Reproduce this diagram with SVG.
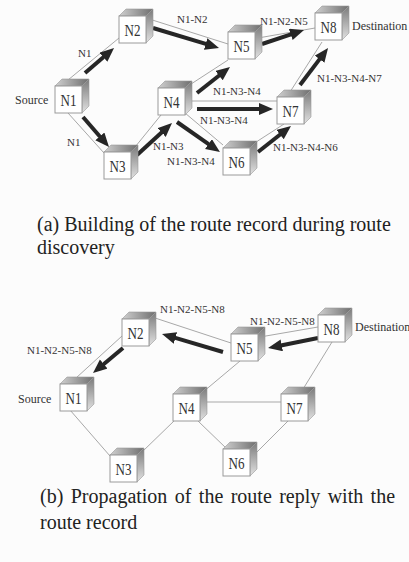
<svg xmlns="http://www.w3.org/2000/svg" xmlns:xlink="http://www.w3.org/1999/xlink" width="409" height="562" viewBox="0 0 409 562">
<style>
.edge{stroke:#a8a8a8;stroke-width:1;fill:none}
.arr{stroke:#262626;stroke-width:4;fill:none;marker-end:url(#ah)}
.lbl{font-family:"Liberation Serif","Times New Roman",serif;font-size:11px;fill:#333}
.side{font-family:"Liberation Serif","Times New Roman",serif;font-size:12px;fill:#333}
.nl{font-family:"Liberation Serif","Times New Roman",serif;font-size:17px;fill:#333;text-anchor:middle}
.cap{font-family:"Liberation Serif","Times New Roman",serif;font-size:20px;fill:#222}
</style>
<defs>
<linearGradient id="gt" x1="0" y1="0" x2="1" y2="0">
<stop offset="0" stop-color="#d0d0d0"/><stop offset="1" stop-color="#6e6e6e"/>
</linearGradient>
<linearGradient id="gs" x1="0" y1="0" x2="0" y2="1">
<stop offset="0" stop-color="#7a7a7a"/><stop offset="1" stop-color="#e2e2e2"/>
</linearGradient>
<g id="cube">
<path d="M0,0 L7,-7 L34,-7 L27,0 Z" fill="url(#gt)" stroke="#999" stroke-width="0.6"/>
<path d="M27,0 L34,-7 L34,20 L27,27 Z" fill="url(#gs)" stroke="#999" stroke-width="0.6"/>
<rect x="0" y="0" width="27" height="27" fill="#fff" stroke="#9a9a9a" stroke-width="1"/>
</g>
<marker id="ah" markerUnits="userSpaceOnUse" markerWidth="16" markerHeight="14" refX="1" refY="6" orient="auto">
<path d="M0,0 L14,6 L0,12 Z" fill="#262626"/>
</marker>
</defs>
<rect width="409" height="562" fill="#fcfcfc"/>

<g id="connectors">
<line class="edge" x1="68" y1="80" x2="119" y2="38"/>
<line class="edge" x1="68" y1="113" x2="104" y2="153"/>
<line class="edge" x1="146" y1="18" x2="228" y2="44"/>
<line class="edge" x1="131" y1="152" x2="161" y2="115"/>
<line class="edge" x1="188" y1="86" x2="228" y2="60"/>
<line class="edge" x1="185" y1="101" x2="277" y2="101"/>
<line class="edge" x1="185" y1="113" x2="223" y2="145"/>
<line class="edge" x1="258" y1="38" x2="315" y2="28"/>
<line class="edge" x1="250" y1="146" x2="284" y2="124"/>
<line class="edge" x1="290" y1="92" x2="322" y2="42"/>

<line class="edge" x1="76" y1="378" x2="122" y2="336"/>
<line class="edge" x1="152" y1="317" x2="231" y2="343"/>
<line class="edge" x1="260" y1="337" x2="318" y2="327"/>
<line class="edge" x1="240" y1="361" x2="203" y2="392"/>
<line class="edge" x1="200" y1="402" x2="281" y2="402"/>
<line class="edge" x1="332" y1="342" x2="300" y2="394"/>
<line class="edge" x1="70" y1="410" x2="110" y2="456"/>
<line class="edge" x1="142" y1="452" x2="175" y2="420"/>
<line class="edge" x1="198" y1="421" x2="227" y2="449"/>
<line class="edge" x1="257" y1="452" x2="288" y2="421"/>

<line class="arr" x1="85" y1="73" x2="104.2" y2="56.5"/>
<line class="arr" x1="153" y1="28" x2="206.6" y2="44.2"/>
<line class="arr" x1="262" y1="44" x2="291.7" y2="34.1"/>
<line class="arr" x1="83" y1="117" x2="100.5" y2="137.2"/>
<line class="arr" x1="137" y1="155" x2="162.4" y2="131.8"/>
<line class="arr" x1="197" y1="93" x2="219.8" y2="75"/>
<line class="arr" x1="197" y1="109" x2="260" y2="109"/>
<line class="arr" x1="177" y1="122" x2="209.3" y2="144.6"/>
<line class="arr" x1="258" y1="152" x2="280.8" y2="134"/>
<line class="arr" x1="300" y1="85" x2="320.2" y2="58.4"/>

<line class="arr" x1="318" y1="338" x2="280.8" y2="345.5"/>
<line class="arr" x1="223" y1="352" x2="174.5" y2="337.7"/>
<line class="arr" x1="123" y1="348" x2="103" y2="364.7"/>

<text class="lbl" x="78" y="57">N1</text>
<text class="lbl" x="177" y="23">N1-N2</text>
<text class="lbl" x="260" y="25">N1-N2-N5</text>
<text class="lbl" x="67" y="146">N1</text>
<text class="lbl" x="153" y="150">N1-N3</text>
<text class="lbl" x="213" y="95">N1-N3-N4</text>
<text class="lbl" x="200" y="124">N1-N3-N4</text>
<text class="lbl" x="167" y="165">N1-N3-N4</text>
<text class="lbl" x="273" y="151">N1-N3-N4-N6</text>
<text class="lbl" x="317" y="82">N1-N3-N4-N7</text>

<text class="lbl" x="160" y="313">N1-N2-N5-N8</text>
<text class="lbl" x="27" y="354">N1-N2-N5-N8</text>
<text class="lbl" x="250" y="325">N1-N2-N5-N8</text>
</g>

<g id="a-N1"><use xlink:href="#cube" x="55" y="86"/><text class="nl" x="68.5" y="106" textLength="16" lengthAdjust="spacingAndGlyphs">N1</text></g>
<g id="a-N2"><use xlink:href="#cube" x="119" y="16"/><text class="nl" x="132.5" y="36" textLength="16" lengthAdjust="spacingAndGlyphs">N2</text></g>
<g id="a-N3"><use xlink:href="#cube" x="104" y="152"/><text class="nl" x="117.5" y="172" textLength="16" lengthAdjust="spacingAndGlyphs">N3</text></g>
<g id="a-N4"><use xlink:href="#cube" x="158" y="88"/><text class="nl" x="171.5" y="108" textLength="16" lengthAdjust="spacingAndGlyphs">N4</text></g>
<g id="a-N5"><use xlink:href="#cube" x="228" y="32"/><text class="nl" x="241.5" y="52" textLength="16" lengthAdjust="spacingAndGlyphs">N5</text></g>
<g id="a-N6"><use xlink:href="#cube" x="223" y="148"/><text class="nl" x="236.5" y="168" textLength="16" lengthAdjust="spacingAndGlyphs">N6</text></g>
<g id="a-N7"><use xlink:href="#cube" x="277" y="97"/><text class="nl" x="290.5" y="117" textLength="16" lengthAdjust="spacingAndGlyphs">N7</text></g>
<g id="a-N8"><use xlink:href="#cube" x="315" y="13"/><text class="nl" x="328.5" y="33" textLength="16" lengthAdjust="spacingAndGlyphs">N8</text></g>
<text class="side" x="15" y="104">Source</text>
<text class="side" x="352" y="30">Destination</text>

<g id="b-N1"><use xlink:href="#cube" x="60" y="384"/><text class="nl" x="73.5" y="404" textLength="16" lengthAdjust="spacingAndGlyphs">N1</text></g>
<g id="b-N2"><use xlink:href="#cube" x="122" y="319"/><text class="nl" x="135.5" y="339" textLength="16" lengthAdjust="spacingAndGlyphs">N2</text></g>
<g id="b-N3"><use xlink:href="#cube" x="110" y="455"/><text class="nl" x="123.5" y="475" textLength="16" lengthAdjust="spacingAndGlyphs">N3</text></g>
<g id="b-N4"><use xlink:href="#cube" x="173" y="394"/><text class="nl" x="186.5" y="414" textLength="16" lengthAdjust="spacingAndGlyphs">N4</text></g>
<g id="b-N5"><use xlink:href="#cube" x="231" y="334"/><text class="nl" x="244.5" y="354" textLength="16" lengthAdjust="spacingAndGlyphs">N5</text></g>
<g id="b-N6"><use xlink:href="#cube" x="223" y="449"/><text class="nl" x="236.5" y="469" textLength="16" lengthAdjust="spacingAndGlyphs">N6</text></g>
<g id="b-N7"><use xlink:href="#cube" x="281" y="394"/><text class="nl" x="294.5" y="414" textLength="16" lengthAdjust="spacingAndGlyphs">N7</text></g>
<g id="b-N8"><use xlink:href="#cube" x="318" y="315"/><text class="nl" x="331.5" y="335" textLength="16" lengthAdjust="spacingAndGlyphs">N8</text></g>
<text class="side" x="18" y="403">Source</text>
<text class="side" x="355" y="331">Destination</text>

<text class="cap" x="37" y="231">(a) Building of the route record during route</text>
<text class="cap" x="37" y="254">discovery</text>
<text class="cap" x="40" y="503" word-spacing="2.4">(b) Propagation of the route reply with the</text>
<text class="cap" x="40" y="529">route record</text>
</svg>
